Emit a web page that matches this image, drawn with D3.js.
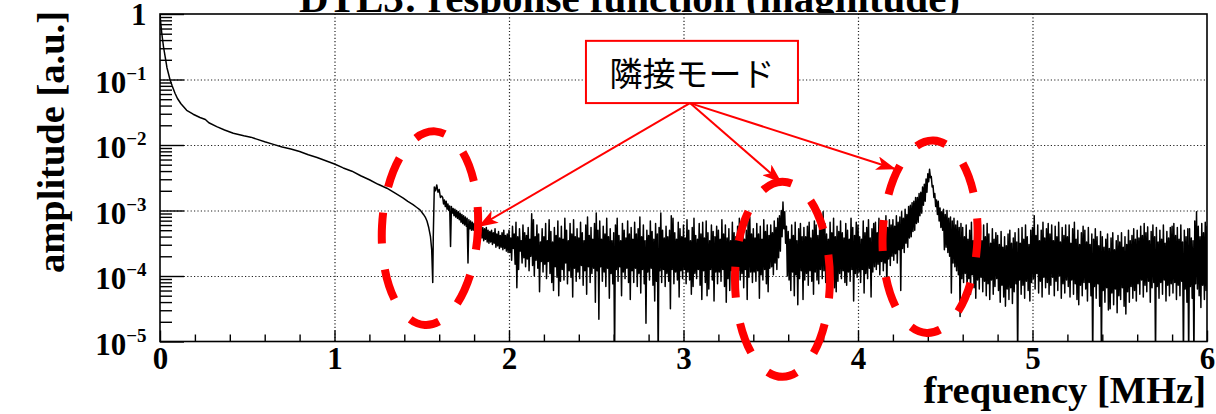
<!DOCTYPE html>
<html>
<head>
<meta charset="utf-8">
<script src="https://cdn.jsdelivr.net/npm/d3@7/dist/d3.min.js"></script>
<style>
  html, body { margin: 0; padding: 0; background: #fff; }
  svg { display: block; }
  .serif { font-family: "Liberation Serif", "DejaVu Serif", serif; font-weight: bold; }
  .jp { font-family: "Noto Sans CJK JP", "Noto Sans CJK SC", sans-serif; }
</style>
</head>
<body>
<svg id="chart" width="1216" height="414"></svg>
<script>
// ---- texts and ticks ----
const titleText = "DTL3: response function (magnitude)";
const xTitle = "frequency [MHz]";
const yTitle = "amplitude [a.u.]";
const calloutText = "隣接モード";
const xTickValues = [0, 1, 2, 3, 4, 5, 6];
const yTickExponents = [0, -1, -2, -3, -4, -5];

// ---- spectrum: low-frequency fall-off and first adjacent mode (~1.57 MHz) ----
const lowFreqMHz = [0, 0.003, 0.01, 0.02, 0.03, 0.04, 0.057, 0.07, 0.086, 0.10,
  0.12, 0.153, 0.19, 0.229, 0.26, 0.28, 0.325, 0.37, 0.42, 0.48,
  0.52, 0.554, 0.60, 0.65, 0.70, 0.75, 0.80, 0.85, 0.90, 0.95,
  1.00, 1.05, 1.10, 1.15, 1.20, 1.25, 1.30, 1.35, 1.394, 1.42,
  1.45, 1.47, 1.49, 1.51, 1.52, 1.53, 1.54, 1.55, 1.557, 1.563,
  1.566, 1.572, 1.579, 1.586, 1.593, 1.60, 1.607, 1.614];
const lowLog10Amp = [0, -0.10, -0.29, -0.50, -0.66, -0.82, -1.00, -1.10, -1.21, -1.29,
  -1.37, -1.47, -1.53, -1.58, -1.61, -1.66, -1.72, -1.77, -1.82, -1.86,
  -1.88, -1.91, -1.95, -1.99, -2.03, -2.06, -2.10, -2.15, -2.19, -2.24,
  -2.29, -2.35, -2.40, -2.47, -2.53, -2.60, -2.66, -2.74, -2.81, -2.86,
  -2.91, -2.95, -2.99, -3.06, -3.10, -3.16, -3.26, -3.40, -3.60, -4.10,
  -3.40, -2.64, -2.70, -2.61, -2.72, -2.68, -2.80, -2.78];

// ---- spectrum above 1.62 MHz: highest / lowest level reached in each 10 kHz bin ----
const floorStartMHz = 1.62;
const floorBinMHz = 0.01;
const floorUpperLog10 = [
  -2.80, -2.84, -2.86, -2.90, -2.93, -2.94, -2.97, -2.98,
  -3.00, -3.02, -3.04, -3.06, -3.08, -3.10, -3.12, -3.14, -3.16, -3.18,
  -3.20, -3.18, -3.22, -3.24, -3.22, -3.26, -3.28, -3.26, -3.30, -3.32,
  -3.30, -3.34, -3.28, -3.36, -3.32, -3.38, -3.34, -3.30, -3.38, -3.36,
  -3.30, -3.42, -3.24, -3.36, -3.18, -3.40, -3.28, -3.46, -3.22, -3.34,
  -3.38, -3.26, -3.44, -3.05, -3.14, -3.40, -3.22, -3.36, -3.48, -3.28,
  -3.40, -3.20, -3.46, -3.14, -3.32, -3.48, -3.26, -3.38, -3.16, -3.42,
  -3.24, -3.44, -3.12, -3.30, -3.46, -3.20, -3.36, -3.14, -3.40, -3.28,
  -3.42, -3.18, -3.34, -3.46, -3.22, -3.10, -3.38, -3.26, -3.44, -3.20,
  -3.04, -3.30, -3.16, -3.44, -3.24, -3.36, -3.12, -3.40, -3.28, -3.46,
  -3.34, -3.22, -3.12, -3.38, -3.46, -3.20, -3.30, -3.42, -3.16, -3.36,
  -3.26, -3.44, -3.18, -3.36, -3.28, -3.10, -3.40, -3.22, -3.46, -3.30,
  -3.38, -3.16, -3.32, -3.44, -3.20, -3.36, -3.26, -3.04, -3.30, -3.42,
  -3.24, -3.40, -3.30, -3.08, -3.12, -3.34, -3.44, -3.18, -3.28, -3.40,
  -3.22, -3.42, -3.14, -3.30, -3.46, -3.26, -3.12, -3.38, -3.44, -3.20,
  -3.36, -3.18, -3.42, -3.16, -3.34, -3.46, -3.22, -3.32, -3.40, -3.24,
  -3.30, -3.44, -3.14, -3.36, -3.22, -3.42, -3.28, -3.46, -3.18, -3.34,
  -3.40, -3.24, -3.12, -3.38, -3.20, -3.44, -3.30, -3.16, -3.10, -3.36,
  -3.28, -3.42, -3.20, -3.36, -3.24, -3.44, -3.14, -3.32, -3.22, -3.38,
  -3.22, -3.34, -3.16, -3.26, -3.12, -3.08, -3.00, -2.87, -3.02, -3.24,
  -3.32, -3.44, -3.22, -3.38, -3.18, -3.46, -3.28, -3.20, -3.40, -3.26,
  -3.40, -3.24, -3.18, -3.42, -3.30, -3.16, -3.22, -3.38, -3.28, -3.14,
  -3.02, -3.20, -3.36, -3.44, -3.18, -3.34, -3.12, -3.40, -3.24, -3.32,
  -3.16, -3.34, -3.42, -3.20, -3.30, -3.44, -3.12, -3.26, -3.38, -3.18,
  -3.22, -3.40, -3.44, -3.16, -3.34, -3.26, -3.14, -3.42, -3.28, -3.20,
  -3.18, -3.34, -3.12, -3.30, -3.16, -3.36, -3.08, -3.26, -3.14, -3.22,
  -3.14, -3.24, -3.08, -3.18, -3.10, -3.02, -3.12, -2.98, -3.06, -2.94,
  -2.92, -2.88, -2.86, -2.80, -2.80, -2.74, -2.72, -2.64, -2.60, -2.52,
  -2.44, -2.37, -2.48, -2.62, -2.74, -2.84, -2.86, -2.96, -3.02, -2.98,
  -3.06, -3.00, -3.12, -3.10, -3.16, -3.12, -3.22, -3.16, -3.26, -3.20,
  -3.26, -3.40, -3.22, -3.44, -3.30, -3.18, -3.46, -3.34, -3.24, -3.42,
  -3.30, -3.46, -3.22, -3.40, -3.20, -3.36, -3.50, -3.28, -3.44, -3.34,
  -3.38, -3.52, -3.32, -3.56, -3.40, -3.54, -3.36, -3.30, -3.50, -3.42,
  -3.34, -3.48, -3.28, -3.50, -3.26, -3.44, -3.22, -3.40, -3.52, -3.30,
  -3.26, -3.08, -3.38, -3.22, -3.46, -3.30, -3.18, -3.42, -3.28, -3.20,
  -3.36, -3.22, -3.46, -3.24, -3.40, -3.18, -3.48, -3.26, -3.38, -3.22,
  -3.40, -3.22, -3.50, -3.28, -3.18, -3.44, -3.30, -3.52, -3.34, -3.24,
  -3.30, -3.48, -3.26, -3.52, -3.36, -3.44, -3.28, -3.40, -3.54, -3.32,
  -3.40, -3.56, -3.44, -3.36, -3.58, -3.42, -3.34, -3.60, -3.46, -3.38,
  -3.48, -3.34, -3.56, -3.40, -3.52, -3.30, -3.46, -3.38, -3.28, -3.44,
  -3.30, -3.42, -3.24, -3.38, -3.20, -3.34, -3.25, -3.46, -3.32, -3.22,
  -3.40, -3.26, -3.48, -3.30, -3.44, -3.22, -3.50, -3.32, -3.42, -3.26,
  -3.24, -3.20, -3.38, -3.26, -3.44, -3.22, -3.48, -3.30, -3.40, -3.28,
  -3.28, -3.42, -3.46, -3.16, -3.02, -3.24, -3.40, -3.20, -3.34, -3.18,
  -3.24
];
const floorLowerLog10 = [
  -2.90, -2.94, -2.98, -3.00, -3.55, -3.04, -3.08, -3.10,
  -3.12, -3.14, -3.18, -3.20, -3.22, -3.24, -3.80, -3.28, -3.30, -3.30,
  -3.34, -3.36, -3.38, -3.40, -3.42, -3.46, -3.44, -3.48, -3.50, -3.48,
  -3.52, -3.50, -3.56, -3.54, -3.58, -3.56, -3.60, -3.58, -3.62, -3.64,
  -3.64, -3.76, -3.58, -3.82, -4.18, -3.90, -3.62, -3.80, -3.72, -3.86,
  -3.74, -3.92, -3.70, -3.84, -4.00, -3.76, -3.88, -4.24, -3.78, -3.94,
  -3.82, -4.04, -3.78, -3.96, -4.10, -4.22, -3.86, -4.02, -4.30, -4.08,
  -3.90, -4.06, -3.80, -4.12, -3.92, -4.02, -4.32, -3.88, -4.08, -3.94,
  -4.04, -3.84, -4.14, -3.92, -4.28, -3.86, -4.10, -3.96, -3.88, -4.40,
  -3.92, -4.66, -3.86, -4.08, -3.94, -4.16, -3.88, -4.34, -3.96, -4.12,
  -5.30, -3.90, -4.08, -3.86, -4.30, -3.94, -4.04, -3.88, -4.10, -4.36,
  -3.92, -4.10, -3.88, -4.16, -3.96, -4.26, -3.90, -4.12, -4.72, -3.94,
  -4.06, -3.88, -4.14, -4.38, -4.08, -5.30, -3.92, -4.10, -3.90, -4.16,
  -3.96, -4.08, -4.50, -3.90, -4.12, -3.94, -4.06, -4.32, -3.92, -4.04,
  -3.90, -4.12, -3.94, -4.06, -4.28, -4.16, -3.96, -4.04, -3.90, -4.14,
  -4.36, -3.92, -4.10, -4.30, -4.20, -3.90, -4.06, -4.38, -3.94, -4.12,
  -3.94, -4.08, -3.90, -4.16, -4.40, -4.04, -4.22, -3.92, -4.10, -4.26,
  -4.12, -3.92, -4.06, -3.96, -4.18, -3.90, -4.36, -4.02, -3.94, -4.10,
  -3.94, -4.08, -3.92, -4.34, -3.98, -4.06, -3.90, -4.12, -4.24, -3.88,
  -3.86, -3.98, -3.80, -3.90, -3.72, -3.62, -3.40, -3.28, -3.50, -4.00,
  -4.06, -4.22, -3.94, -4.30, -3.98, -4.44, -4.04, -3.92, -4.36, -4.06,
  -3.96, -4.14, -3.92, -4.08, -4.28, -3.94, -4.06, -4.12, -3.90, -4.04,
  -3.92, -4.10, -3.96, -4.32, -3.90, -4.06, -4.18, -4.24, -4.08, -3.96,
  -4.04, -3.92, -4.10, -4.14, -3.94, -4.08, -3.90, -4.38, -3.96, -4.02,
  -3.94, -4.10, -3.90, -4.26, -3.96, -4.04, -3.88, -4.32, -3.94, -3.86,
  -3.90, -3.82, -3.98, -3.78, -3.92, -3.80, -4.22, -3.74, -3.84, -3.70,
  -3.76, -3.66, -3.80, -3.60, -4.22, -3.58, -3.64, -3.50, -3.56, -3.42,
  -3.40, -3.32, -3.30, -3.20, -3.18, -3.08, -3.04, -2.92, -2.86, -2.72,
  -2.56, -2.50, -2.64, -2.80, -2.94, -3.06, -3.16, -3.26, -3.30, -3.60,
  -3.56, -3.64, -3.70, -4.26, -3.80, -3.86, -3.92, -3.98, -4.62, -4.04,
  -4.10, -3.96, -4.22, -4.04, -4.28, -3.98, -4.18, -4.34, -4.06, -4.20,
  -4.02, -4.24, -4.08, -4.30, -4.12, -4.36, -4.06, -4.28, -4.16, -4.04,
  -4.22, -4.40, -4.14, -4.32, -4.46, -4.20, -4.36, -4.18, -4.42, -4.24,
  -4.12, -5.30, -4.06, -4.28, -4.14, -4.34, -4.08, -4.22, -4.38, -4.10,
  -4.04, -4.20, -3.96, -4.26, -4.08, -4.32, -4.02, -4.18, -4.10, -4.28,
  -4.14, -4.02, -4.30, -4.08, -4.22, -4.00, -4.34, -4.12, -4.26, -4.06,
  -4.16, -4.32, -4.06, -4.28, -4.12, -4.36, -4.44, -4.14, -4.30, -4.10,
  -4.20, -4.38, -4.10, -4.30, -5.30, -4.16, -4.34, -4.12, -4.46, -5.30,
  -4.22, -4.40, -4.18, -4.52, -4.50, -4.26, -4.44, -4.20, -4.56, -4.30,
  -4.36, -4.18, -4.46, -4.58, -4.24, -4.40, -4.16, -4.34, -4.22, -4.38,
  -4.12, -4.28, -4.06, -4.32, -4.14, -4.24, -4.08, -4.40, -4.18, -4.10,
  -5.30, -4.16, -4.34, -4.10, -4.28, -4.06, -4.38, -4.14, -4.30, -4.12,
  -4.26, -4.10, -4.36, -4.14, -4.30, -4.08, -5.30, -4.20, -4.40, -5.30,
  -4.16, -4.34, -5.30, -4.12, -4.20, -4.30, -4.48, -4.14, -4.36, -4.22,
  -3.90
];

// ---- annotation anchors (data coordinates) ----
const modeMarks = [
  { f: 1.547, log10: -3.27, rxMHz: 0.275, ryDec: 1.48, tilt: 3 },
  { f: 3.567, log10: -4.05, rxMHz: 0.272, ryDec: 1.49, tilt: 0 },
  { f: 4.413, log10: -3.40, rxMHz: 0.272, ryDec: 1.47, tilt: 2 }
];
const arrowTips = [
  { f: 1.822, log10: -3.25 },
  { f: 3.564, log10: -2.58 },
  { f: 4.218, log10: -2.37 }
];
const calloutBox = { f0: 2.441, f1: 3.656, logTop: -0.41, logBottom: -1.36 };

// ---- layout ----
const plot = { left: 160, right: 1207, top: 14, bottom: 341.5 };
const x = d3.scaleLinear().domain([0, 6]).range([plot.left, plot.right]);
const y = d3.scaleLog().domain([1e-5, 1]).range([plot.bottom, plot.top]);
const svg = d3.select("#chart");
const RED = "#ff0000";

svg.append("defs").append("clipPath").attr("id", "plotClip")
  .append("rect")
  .attr("x", plot.left).attr("y", plot.top)
  .attr("width", plot.right - plot.left).attr("height", plot.bottom - plot.top);

// ---- dotted grid ----
const grid = svg.append("g").attr("class", "grid");
grid.append("g")
  .attr("transform", `translate(0,${plot.bottom})`)
  .call(d3.axisBottom(x).tickValues(xTickValues.slice(1, -1))
    .tickSize(-(plot.bottom - plot.top)).tickFormat(""))
  .call(g => g.select(".domain").remove());
grid.append("g")
  .attr("transform", `translate(${plot.left},0)`)
  .call(d3.axisLeft(y).tickValues(yTickExponents.slice(1, -1).map(e => Math.pow(10, e)))
    .tickSize(-(plot.right - plot.left)).tickFormat(""))
  .call(g => g.select(".domain").remove());
grid.selectAll("line")
  .attr("stroke", "#222").attr("stroke-width", 1.2).attr("stroke-dasharray", "1.2,2.2");

// ---- spectrum trace ----
// each bin is traced from its highest to its lowest level, as a dense trace renders
const spectrum = lowFreqMHz.map((f, i) => ({ f, a: Math.pow(10, lowLog10Amp[i]) }));
floorUpperLog10.forEach((hi, i) => {
  const f = floorStartMHz + i * floorBinMHz;
  spectrum.push({ f, a: Math.pow(10, hi) });
  spectrum.push({ f: f + floorBinMHz / 2, a: Math.pow(10, floorLowerLog10[i]) });
});

svg.append("path")
  .datum(spectrum)
  .attr("clip-path", "url(#plotClip)")
  .attr("fill", "none")
  .attr("stroke", "#000")
  .attr("stroke-width", 1.5)
  .attr("stroke-linejoin", "round")
  .attr("d", d3.line().x(d => x(d.f)).y(d => y(d.a)));

// ---- frame ----
svg.append("rect")
  .attr("x", plot.left).attr("y", plot.top)
  .attr("width", plot.right - plot.left).attr("height", plot.bottom - plot.top)
  .attr("fill", "none").attr("stroke", "#000").attr("stroke-width", 1.6);

// ---- axis ticks (pointing inside) ----
const xMinor = d3.range(0, 30).map(i => i * 0.2).filter(v => Math.abs(v - Math.round(v)) > 1e-6);
const xAxisG = svg.append("g").attr("transform", `translate(0,${plot.bottom})`);
xAxisG.append("g").call(d3.axisBottom(x).tickValues(xMinor).tickSize(-7).tickFormat(""));
xAxisG.append("g").attr("class", "xmajor")
  .call(d3.axisBottom(x).tickValues(xTickValues).tickSize(-11).tickFormat(d3.format("d")));
xAxisG.selectAll(".domain").remove();
xAxisG.selectAll("line").attr("stroke", "#000").attr("stroke-width", 1.4);
xAxisG.selectAll(".xmajor text")
  .attr("class", "serif").attr("font-size", 31).attr("fill", "#000")
  .attr("y", 27).attr("dy", 0);

const yMinorVals = [];
yTickExponents.slice(1).forEach(e => { for (let m = 2; m <= 9; m++) yMinorVals.push(m * Math.pow(10, e)); });
const yAxisG = svg.append("g").attr("transform", `translate(${plot.left},0)`);
yAxisG.append("g").call(d3.axisLeft(y).tickValues(yMinorVals).tickSize(-12).tickFormat(""));
yAxisG.append("g").call(d3.axisLeft(y).tickValues(yTickExponents.map(e => Math.pow(10, e))).tickSize(-24).tickFormat(""));
yAxisG.selectAll(".domain").remove();
yAxisG.selectAll("line").attr("stroke", "#000").attr("stroke-width", 1.4);

// y tick labels: 1, 10^-1 ... 10^-5
const yLabels = svg.append("g").attr("class", "serif").attr("fill", "#000");
yTickExponents.forEach(e => {
  const ty = y(Math.pow(10, e));
  const t = yLabels.append("text").attr("x", 146.5).attr("text-anchor", "end");
  if (e === 0) {
    t.attr("y", ty + 11).attr("font-size", 31).text("1");
  } else {
    t.attr("y", ty + 13).attr("font-size", 31);
    t.append("tspan").text("10");
    t.append("tspan").attr("font-size", 19).attr("dy", -13).text("\u2212" + Math.abs(e));
  }
});

// ---- axis titles and plot title ----
svg.append("text").attr("class", "serif")
  .attr("font-size", 38.5).attr("text-anchor", "end")
  .attr("x", 1206).attr("y", 403).text(xTitle);
svg.append("text").attr("class", "serif")
  .attr("font-size", 38.5).attr("text-anchor", "middle")
  .attr("transform", "translate(64,142) rotate(-90)").text(yTitle);

svg.append("clipPath").attr("id", "titleClip")
  .append("rect").attr("x", 0).attr("y", 0).attr("width", 1216).attr("height", 13);
svg.append("text").attr("class", "serif")
  .attr("clip-path", "url(#titleClip)")
  .attr("font-size", 41).attr("text-anchor", "middle")
  .attr("x", 629.5).attr("y", 12).text(titleText);

// ---- adjacent-mode annotations ----
const ann = svg.append("g").attr("class", "annotations");
ann.selectAll("ellipse")
  .data(modeMarks)
  .join("ellipse")
  .attr("cx", 0).attr("cy", 0)
  .attr("rx", d => x(d.rxMHz) - x(0))
  .attr("ry", d => y(Math.pow(10, -d.ryDec)) - y(1))
  .attr("transform", d => `translate(${x(d.f)},${y(Math.pow(10, d.log10))}) rotate(${d.tilt})`)
  .attr("fill", "none").attr("stroke", RED).attr("stroke-width", 8)
  .attr("stroke-dasharray", "31,26").attr("stroke-dashoffset", 12);

svg.select("defs").append("marker")
  .attr("id", "arrowHead").attr("markerUnits", "userSpaceOnUse")
  .attr("viewBox", "0 0 20 14").attr("markerWidth", 20).attr("markerHeight", 14)
  .attr("refX", 20).attr("refY", 7).attr("orient", "auto")
  .append("path").attr("d", "M0,0 L20,7 L0,14 L5,7 Z").attr("fill", RED);

const bx0 = x(calloutBox.f0), bx1 = x(calloutBox.f1);
const byTop = y(Math.pow(10, calloutBox.logTop)), byBot = y(Math.pow(10, calloutBox.logBottom));
const originX = (bx0 + bx1) / 2 - 2;

ann.selectAll("line.arrow")
  .data(arrowTips)
  .join("line").attr("class", "arrow")
  .attr("x1", originX).attr("y1", byBot)
  .attr("x2", d => x(d.f)).attr("y2", d => y(Math.pow(10, d.log10)))
  .attr("stroke", RED).attr("stroke-width", 2)
  .attr("marker-end", "url(#arrowHead)");

ann.append("rect")
  .attr("x", bx0).attr("y", byTop)
  .attr("width", bx1 - bx0).attr("height", byBot - byTop)
  .attr("fill", "#fff").attr("stroke", RED).attr("stroke-width", 2);
ann.append("text").attr("class", "jp")
  .attr("x", (bx0 + bx1) / 2).attr("y", (byTop + byBot) / 2)
  .attr("text-anchor", "middle").attr("dominant-baseline", "central")
  .attr("font-size", 33).attr("fill", "#000").text(calloutText);
</script>
</body>
</html>
